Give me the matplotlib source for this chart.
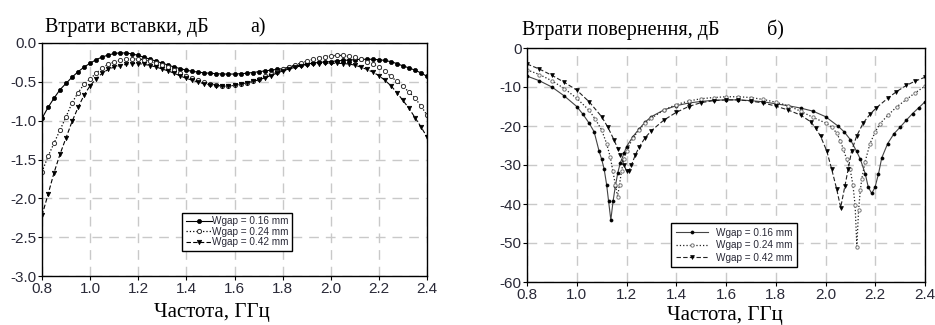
import matplotlib
matplotlib.use('Agg')
import matplotlib.pyplot as plt
import numpy as np

plt.rcParams['axes.unicode_minus'] = False
plt.rcParams['font.family'] = ['Liberation Sans', 'DejaVu Sans']

# ---------------- data ----------------
labels = ['Wgap = 0.16 mm', 'Wgap = 0.24 mm', 'Wgap = 0.42 mm']

# Insertion loss (S21), dB, sampled every 0.025 GHz from 0.8 to 2.4
il_freq = np.linspace(0.8, 2.4, 65)
il_016 = [-0.97, -0.83, -0.71, -0.60, -0.52, -0.44, -0.37, -0.31, -0.26, -0.215,
          -0.18, -0.155, -0.135, -0.127, -0.13, -0.14, -0.16, -0.185, -0.21, -0.235,
          -0.26, -0.285, -0.31, -0.33, -0.35, -0.365, -0.375, -0.385, -0.39, -0.395,
          -0.40, -0.40, -0.40, -0.395, -0.39, -0.38, -0.37, -0.36, -0.35, -0.34,
          -0.33, -0.315, -0.30, -0.285, -0.27, -0.26, -0.25, -0.245, -0.24, -0.23,
          -0.225, -0.22, -0.215, -0.21, -0.21, -0.21, -0.215, -0.225, -0.24, -0.265,
          -0.295, -0.32, -0.35, -0.385, -0.43]
il_024 = [-1.66, -1.46, -1.29, -1.12, -0.95, -0.77, -0.64, -0.53, -0.46, -0.39,
          -0.32, -0.275, -0.245, -0.225, -0.21, -0.205, -0.205, -0.215, -0.235, -0.26,
          -0.285, -0.31, -0.345, -0.385, -0.42, -0.45, -0.48, -0.505, -0.525, -0.545,
          -0.555, -0.555, -0.545, -0.53, -0.51, -0.485, -0.46, -0.43, -0.40, -0.37,
          -0.34, -0.31, -0.285, -0.26, -0.235, -0.21, -0.19, -0.175, -0.165, -0.16,
          -0.16, -0.17, -0.185, -0.21, -0.24, -0.27, -0.31, -0.365, -0.43, -0.495,
          -0.56, -0.63, -0.71, -0.81, -0.93]
il_042 = [-2.22, -1.95, -1.67, -1.43, -1.22, -1.01, -0.83, -0.67, -0.55, -0.46,
          -0.39, -0.34, -0.31, -0.29, -0.275, -0.265, -0.265, -0.275, -0.29, -0.31,
          -0.335, -0.36, -0.39, -0.425, -0.455, -0.48, -0.505, -0.525, -0.54, -0.55,
          -0.555, -0.555, -0.545, -0.53, -0.515, -0.495, -0.475, -0.45, -0.42, -0.39,
          -0.36, -0.335, -0.315, -0.295, -0.28, -0.27, -0.265, -0.26, -0.26, -0.26,
          -0.265, -0.27, -0.285, -0.31, -0.34, -0.375, -0.42, -0.48, -0.55, -0.64,
          -0.74, -0.84, -0.96, -1.08, -1.21]

# Return loss (S11), dB
rl_f_016 = [0.80, 0.85, 0.90, 0.95, 1.00, 1.025, 1.05, 1.07, 1.09, 1.10, 1.11, 1.12,
            1.128, 1.137, 1.146, 1.155, 1.165, 1.175, 1.19, 1.20, 1.225, 1.25, 1.275,
            1.30, 1.35, 1.40, 1.45, 1.50, 1.55, 1.60, 1.65, 1.70, 1.75, 1.80, 1.85,
            1.90, 1.95, 2.00, 2.05, 2.075, 2.10, 2.125, 2.14, 2.16, 2.172, 2.186,
            2.199, 2.213, 2.226, 2.25, 2.275, 2.30, 2.325, 2.35, 2.375, 2.40]
rl_v_016 = [-7.2, -8.4, -10.0, -12.3, -15.0, -17.0, -19.3, -21.5, -26.5, -28.5, -31.0, -35.0,
            -39.3, -44.1, -39.3, -35.5, -32.0, -29.5, -27.0, -25.3, -22.8, -20.8, -19.0,
            -17.6, -15.9, -14.8, -14.1, -13.7, -13.4, -13.3, -13.3, -13.5, -13.8, -14.3, -14.8,
            -15.4, -16.2, -17.6, -20.0, -21.5, -23.5, -26.5, -28.5, -32.3, -35.7, -37.3,
            -35.7, -32.3, -28.2, -24.5, -22.0, -20.3, -18.5, -16.8, -15.3, -13.8]

rl_f_024 = [0.80, 0.85, 0.90, 0.95, 1.00, 1.05, 1.075, 1.10, 1.12, 1.135, 1.145, 1.155,
            1.164, 1.172, 1.18, 1.19, 1.20, 1.225, 1.25, 1.275, 1.30, 1.35, 1.40, 1.45,
            1.50, 1.55, 1.60, 1.65, 1.70, 1.75, 1.80, 1.85, 1.90, 1.95, 2.00, 2.025,
            2.045, 2.06, 2.072, 2.085, 2.099, 2.11, 2.119, 2.126, 2.133, 2.14, 2.146,
            2.159, 2.179, 2.20, 2.219, 2.25, 2.286, 2.325, 2.36, 2.40]
rl_v_024 = [-5.6, -6.8, -8.4, -10.4, -12.9, -16.0, -18.3, -21.0, -24.5, -28.0, -31.5, -35.0,
            -38.1, -35.0, -31.5, -28.5, -26.3, -23.2, -21.0, -19.3, -18.0, -15.9, -14.5, -13.6,
            -13.0, -12.7, -12.5, -12.5, -12.7, -13.2, -13.9, -14.8, -16.2, -17.8, -19.2, -20.3,
            -21.8, -23.8, -26.0, -28.5, -31.1, -35.0, -40.3, -50.9, -41.5, -36.5, -33.5,
            -29.2, -24.5, -21.5, -19.4, -17.3, -15.1, -13.2, -11.5, -9.8]

rl_f_042 = [0.80, 0.85, 0.90, 0.95, 1.00, 1.05, 1.10, 1.125, 1.15, 1.165, 1.175, 1.19,
            1.20, 1.21, 1.22, 1.235, 1.25, 1.275, 1.30, 1.35, 1.40, 1.45, 1.50, 1.55,
            1.60, 1.65, 1.70, 1.75, 1.80, 1.85, 1.90, 1.94, 1.96, 1.98, 2.005, 2.025,
            2.045, 2.061, 2.078, 2.091, 2.105, 2.125, 2.152, 2.18, 2.205, 2.25, 2.285,
            2.325, 2.36, 2.40]
rl_v_042 = [-4.1, -5.4, -7.0, -8.8, -10.8, -13.8, -17.6, -20.3, -23.6, -25.8, -27.5, -30.0,
            -31.5, -31.5, -30.0, -27.5, -25.5, -23.0, -21.2, -18.5, -16.5, -15.0, -14.0, -13.5,
            -13.3, -13.3, -13.6, -14.1, -14.9, -15.9, -17.2, -18.9, -20.5, -22.6, -26.4, -31.1,
            -36.2, -40.9, -35.4, -31.1, -26.4, -22.6, -19.2, -16.9, -15.3, -12.9, -11.2,
            -9.6, -8.5, -7.5]

x_ticks = [0.8, 1.0, 1.2, 1.4, 1.6, 1.8, 2.0, 2.2, 2.4]
il_ticks = [0.0, -0.5, -1.0, -1.5, -2.0, -2.5, -3.0]
rl_ticks = [0, -10, -20, -30, -40, -50, -60]

# ---------------- figure ----------------
W, H = 935, 325
fig = plt.figure(figsize=(W / 100, H / 100), dpi=100)
ax1 = fig.add_axes([42 / W, 1 - 276 / H, 385 / W, 233 / H])
ax2 = fig.add_axes([527 / W, 1 - 282 / H, 398 / W, 234 / H])

tick_col = '#2a2a38'
grid_col = '#c9c9c9'
serif = ['Liberation Serif', 'DejaVu Serif']

def style(ax, yt, fmt):
    ax.set_xlim(0.8, 2.4)
    ax.set_xticks(x_ticks)
    ax.set_xticklabels(['%.1f' % v for v in x_ticks])
    ax.set_yticks(yt)
    ax.set_yticklabels([fmt % v for v in yt])
    ax.grid(True, color=grid_col, linestyle=(0, (7, 5)), linewidth=1.0)
    ax.set_axisbelow(True)
    ax.tick_params(axis='both', colors='black', labelcolor=tick_col, labelsize=11,
                   length=3, width=0.8, direction='out', pad=1)
    for s in ax.spines.values():
        s.set_linewidth(1.0)
        s.set_color('black')

# Insertion loss
ax1.plot(il_freq, il_016, '-', color='black', lw=0.8, marker='o', ms=3.0,
         mfc='black', mec='black', mew=0.5, label=labels[0])
ax1.plot(il_freq, il_024, ':', color='black', lw=0.9, marker='o', ms=3.0,
         mfc='white', mec='#333333', mew=0.7, label=labels[1])
ax1.plot(il_freq, il_042, '--', color='black', lw=0.8, marker='v', ms=3.2,
         mfc='black', mec='black', mew=0.5, label=labels[2], dashes=(4, 2))
ax1.set_ylim(-3.0, 0.0)
style(ax1, il_ticks, '%.1f')
leg1 = ax1.legend(loc='upper left', bbox_to_anchor=(0.364, 0.272), fontsize=7.2,
                  frameon=True, fancybox=False, edgecolor='black', framealpha=1,
                  handlelength=2.6, handletextpad=0.0, borderpad=0.35, labelspacing=0.05,
                  borderaxespad=0)
leg1.get_frame().set_linewidth(1.0)
for t in leg1.get_texts():
    t.set_color(tick_col)

# Return loss
ax2.plot(rl_f_016, rl_v_016, '-', color='#444444', lw=0.8, marker='o', ms=2.2,
         mfc='black', mec='black', mew=0.5, label=labels[0])
ax2.plot(rl_f_024, rl_v_024, ':', color='#222222', lw=0.9, marker='o', ms=2.4,
         mfc='white', mec='#777777', mew=0.7, label=labels[1])
ax2.plot(rl_f_042, rl_v_042, '--', color='#222222', lw=0.8, marker='v', ms=2.8,
         mfc='black', mec='black', mew=0.5, label=labels[2], dashes=(4, 2))
ax2.set_ylim(-60, 0)
style(ax2, rl_ticks, '%d')
leg2 = ax2.legend(loc='upper left', bbox_to_anchor=(0.362, 0.252), fontsize=7.2,
                  frameon=True, fancybox=False, edgecolor='black', framealpha=1,
                  handlelength=3.2, handletextpad=0.8, borderpad=0.45, labelspacing=0.25,
                  borderaxespad=0)
leg2.get_frame().set_linewidth(1.0)
for t in leg2.get_texts():
    t.set_color(tick_col)

# Titles and axis labels (serif, as in reference)
fig.text(45 / W, 1 - 32 / H, 'Втрати вставки, дБ', family=serif, fontsize=14.5,
         ha='left', va='baseline')
fig.text(250 / W, 1 - 32 / H, 'а)', family=serif, fontsize=14.5, ha='left', va='baseline')
fig.text(522 / W, 1 - 35 / H, 'Втрати повернення, дБ', family=serif, fontsize=14.5,
         ha='left', va='baseline')
fig.text(767 / W, 1 - 35 / H, 'б)', family=serif, fontsize=14.5, ha='left', va='baseline')
fig.text(212 / W, 1 - 317 / H, 'Частота, ГГц', family=serif, fontsize=15,
         ha='center', va='baseline')
fig.text(725 / W, 1 - 320 / H, 'Частота, ГГц', family=serif, fontsize=15,
         ha='center', va='baseline')

fig.savefig('out.png', dpi=100, facecolor='white')
